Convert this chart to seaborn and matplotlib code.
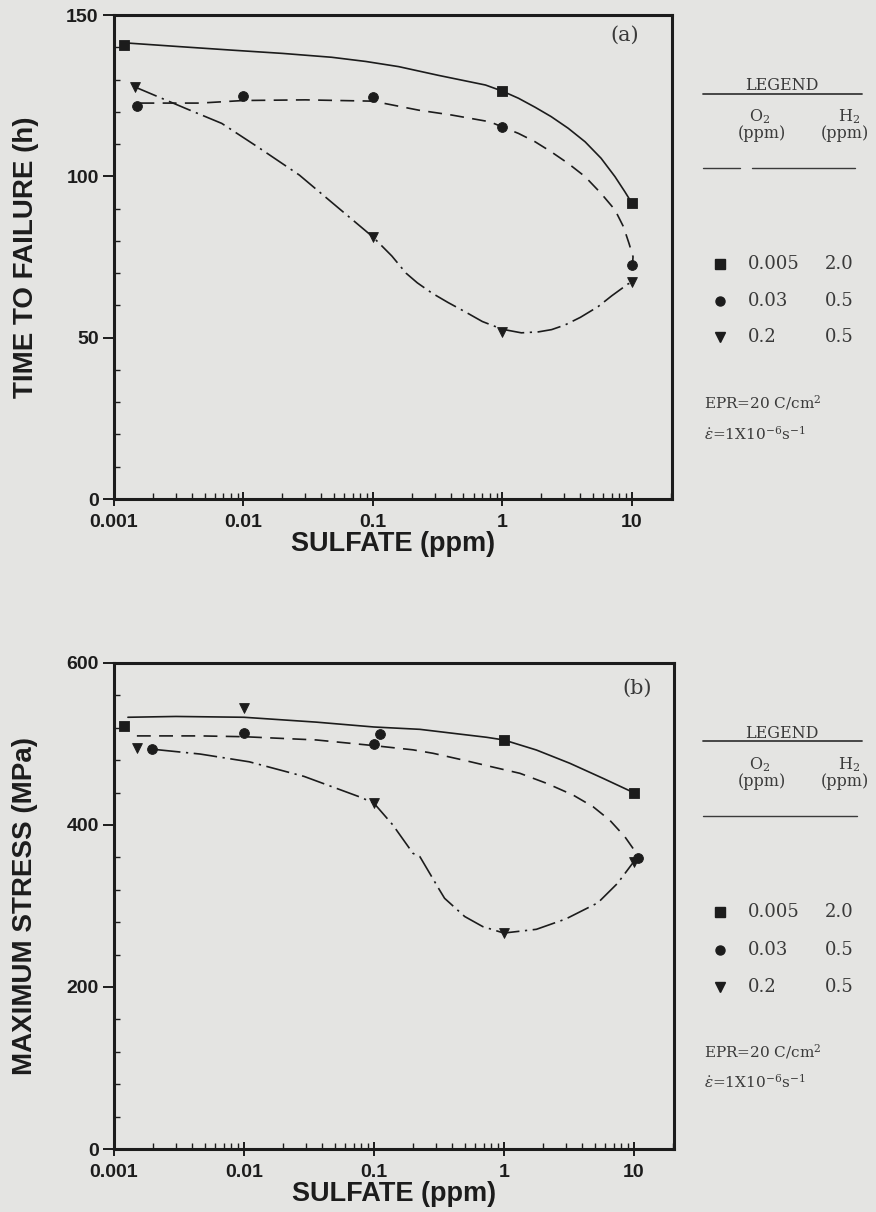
import numpy as np
import pandas as pd
import matplotlib
matplotlib.use("Agg")
import matplotlib.pyplot as plt
import seaborn as sns
from matplotlib.lines import Line2D
from matplotlib.ticker import FixedLocator, FixedFormatter, LogLocator, NullFormatter, MultipleLocator

# ---------------- data ----------------
x_ticks = [0.001, 0.01, 0.1, 1, 10]
x_tick_labels = ["0.001", "0.01", "0.1", "1", "10"]

# panel (a): time to failure (h)
a_sq_x = [0.0012, 1, 10]
a_sq_y = [140.7, 126.4, 91.7]
a_ci_x = [0.0015, 0.01, 0.1, 1, 10]
a_ci_y = [121.8, 124.9, 124.6, 115.3, 72.5]
a_tr_x = [0.00145, 0.1, 1, 10]
a_tr_y = [127.7, 81.2, 51.8, 67.2]

a_solid_x = [0.00128, 0.0032, 0.0082, 0.02, 0.048, 0.088, 0.158, 0.32, 0.74, 1,
             1.33, 1.79, 2.38, 3.22, 4.35, 5.78, 7.4, 8.83, 10]
a_solid_y = [141.3, 140.2, 139.1, 138.1, 136.9, 135.6, 134.0, 131.3, 128.3, 126.4,
             124.2, 121.4, 118.5, 114.9, 110.7, 105.6, 99.9, 95.2, 91.7]
a_dash_x = [0.0016, 0.0046, 0.01, 0.03, 0.1, 0.226, 0.405, 0.8, 1, 1.33, 1.79, 2.38,
            3.22, 4.35, 5.78, 7.4, 8.6, 9.5, 10.2, 10.1]
a_dash_y = [122.7, 122.7, 123.5, 123.7, 123.3, 120.5, 119.0, 116.9, 115.3, 113.3, 110.7, 107.6,
            104.0, 99.9, 94.7, 89.6, 84.4, 79.2, 75.1, 72.5]
a_dd_x = [0.00145, 0.0036, 0.0068, 0.013, 0.027, 0.053, 0.1, 0.14, 0.18, 0.22, 0.286, 0.38,
          0.516, 0.7, 1, 1.4, 1.9, 2.4, 3.03, 4.0, 5.47, 7.0, 9.3, 10]
a_dd_y = [127.7, 121.0, 116.4, 109.0, 100.4, 90.5, 81.2, 75.3, 70.0, 67.0, 63.8, 60.9,
          58.0, 55.0, 52.6, 51.5, 51.8, 52.5, 53.9, 56.3, 59.6, 63.0, 66.6, 67.2]

# panel (b): maximum stress (MPa)
b_sq_x = [0.0012, 1, 10]
b_sq_y = [522, 505, 439]
b_ci_x = [0.00196, 0.01, 0.1, 0.111, 10.8]
b_ci_y = [494, 513.6, 500, 512, 359]
b_tr_x = [0.0015, 0.01, 0.1, 1, 10]
b_tr_y = [495, 544, 427, 266.6, 354]

b_solid_x = [0.00128, 0.003, 0.01, 0.036, 0.1, 0.226, 0.407, 0.736, 1, 1.78, 3.22, 5.8, 10]
b_solid_y = [533, 534, 533, 527, 521, 518.1, 513.2, 508.3, 505, 492.6, 476.2, 457.6, 439.9]
b_dash_x = [0.0015, 0.0046, 0.01, 0.036, 0.1, 0.2, 0.286, 0.486, 0.8, 1.33, 2.13, 3.41,
            4.86, 6.53, 8.53, 10.5, 10.8]
b_dash_y = [510, 510, 509, 505, 498, 492.8, 488.5, 480.2, 472, 463.8, 451.5, 437,
            422.6, 406, 385.6, 365, 359]
b_dd_x = [0.00214, 0.0046, 0.011, 0.029, 0.078, 0.1, 0.14, 0.2, 0.226, 0.32, 0.35, 0.5,
          0.69, 1, 1.78, 3.0, 5.3, 7.5, 10]
b_dd_y = [493, 487.6, 478, 460, 434.6, 427, 400, 365, 360.9, 319.8, 309.5, 287,
          274.5, 266.6, 271.2, 284, 304, 328, 354.7]

legend_o2 = ["0.005", "0.03", "0.2"]
legend_h2 = ["2.0", "0.5", "0.5"]
legend_markers = ["s", "o", "v"]

# ---------------- style ----------------
sns.set_theme(style="ticks")
plt.rcParams["font.family"] = ["Liberation Sans", "DejaVu Sans"]
plt.rcParams["mathtext.fontset"] = "dejavuserif"
plt.rcParams["lines.scale_dashes"] = False

BG = "#e4e4e2"
INK = "#1c1c1c"
SOFT = "#3a3a3a"
SERIF = ["DejaVu Serif"]

W, H = 876, 1212
fig = plt.figure(figsize=(W / 100, H / 100), dpi=100, facecolor=BG)


def rect(l, t, r, b):
    return [l / W, 1 - b / H, (r - l) / W, (b - t) / H]


def P(x, y):
    return x / W, 1 - y / H


SOLID = "-"
DASH = (0, (10, 6))
DASHDOT = (0, (17, 4, 1.6, 4))


def panel(ax, curves, markers, ylim, ymaj, ymin, ylabel, tag, tagxy):
    ax.set_facecolor(BG)
    ax.set_xscale("log")
    for x, y, ls in curves:
        df = pd.DataFrame({"x": x, "y": y})
        sns.lineplot(data=df, x="x", y="y", sort=False, estimator=None, ax=ax,
                     color=INK, linewidth=1.2, linestyle=ls)
    for x, y, m, s in markers:
        sns.scatterplot(x=x, y=y, marker=m, s=s, color=INK, edgecolor=INK,
                        linewidth=0.6, ax=ax, zorder=5)
    ax.set_xlim(0.001, 20.4)
    ax.set_ylim(*ylim)
    ax.xaxis.set_major_locator(FixedLocator(x_ticks))
    ax.xaxis.set_major_formatter(FixedFormatter(x_tick_labels))
    ax.xaxis.set_minor_locator(LogLocator(base=10, subs=np.arange(2, 10)))
    ax.xaxis.set_minor_formatter(NullFormatter())
    ax.yaxis.set_major_locator(MultipleLocator(ymaj))
    ax.yaxis.set_minor_locator(MultipleLocator(ymin))
    ax.tick_params(axis="x", which="major", direction="inout", length=10, width=1.4,
                   pad=6, labelsize=14, colors=INK)
    ax.tick_params(axis="x", which="minor", direction="in", length=4, width=1.0, colors=INK)
    ax.tick_params(axis="y", which="major", direction="out", length=8, width=1.4,
                   pad=3, labelsize=14, colors=INK)
    ax.tick_params(axis="y", which="minor", direction="in", length=4, width=1.0, colors=INK)
    for lab in ax.get_xticklabels() + ax.get_yticklabels():
        lab.set_fontweight("bold")
    for s in ax.spines.values():
        s.set_visible(True)
        s.set_linewidth(2.2)
        s.set_color(INK)
    ax.set_xlabel("SULFATE (ppm)", fontsize=19.5, fontweight="bold", color=INK, labelpad=0)
    ax.set_ylabel(ylabel, fontsize=20, fontweight="bold", color=INK)
    ax.yaxis.set_label_coords(-0.135, 0.5)
    ax.text(tagxy[0], tagxy[1], tag, transform=ax.transAxes, family=SERIF,
            fontsize=15, color=SOFT, ha="center", va="center")


def legend_block(y_legend, y_under, y_o2, y_ppm, y_rule, rule_segments, rows_y, y_epr, y_eps):
    fig.text(*P(782, y_legend), "LEGEND", family=SERIF, fontsize=11.5, color=SOFT,
             ha="center", va="center")
    fig.add_artist(Line2D([703 / W, 862 / W], [1 - y_under / H] * 2, color=SOFT, lw=1.3))
    fig.text(*P(760, y_o2), "O$_2$", family=SERIF, fontsize=11.5, color=SOFT, ha="center", va="center")
    fig.text(*P(762, y_ppm), "(ppm)", family=SERIF, fontsize=11.5, color=SOFT, ha="center", va="center")
    fig.text(*P(849, y_o2), "H$_2$", family=SERIF, fontsize=11.5, color=SOFT, ha="center", va="center")
    fig.text(*P(845, y_ppm), "(ppm)", family=SERIF, fontsize=11.5, color=SOFT, ha="center", va="center")
    for x0, x1 in rule_segments:
        fig.add_artist(Line2D([x0 / W, x1 / W], [1 - y_rule / H] * 2, color=SOFT, lw=1.0))
    for yy, m, o2, h2 in zip(rows_y, legend_markers, legend_o2, legend_h2):
        fig.add_artist(Line2D([720 / W], [1 - yy / H], marker=m, ms=6.5, color=INK, lw=0))
        fig.text(*P(748, yy), o2, family=SERIF, fontsize=13, color=SOFT, ha="left", va="center")
        fig.text(*P(825, yy), h2, family=SERIF, fontsize=13, color=SOFT, ha="left", va="center")
    fig.text(*P(704, y_epr), "EPR=20 C/cm$^2$", family=SERIF, fontsize=11, color=SOFT,
             ha="left", va="center")
    fig.text(*P(704, y_eps), r"$\dot{\varepsilon}$=1X10$^{-6}$s$^{-1}$", family=SERIF,
             fontsize=11, color=SOFT, ha="left", va="center")


axA = fig.add_axes(rect(114, 15, 672, 499))
panel(axA,
      [(a_solid_x, a_solid_y, SOLID), (a_dash_x, a_dash_y, DASH), (a_dd_x, a_dd_y, DASHDOT)],
      [(a_sq_x, a_sq_y, "s", 55), (a_ci_x, a_ci_y, "o", 50), (a_tr_x, a_tr_y, "v", 50)],
      (0, 150), 50, 10, "TIME TO FAILURE (h)", "(a)", (0.915, 0.958))

axB = fig.add_axes(rect(114, 663, 674, 1149))
panel(axB,
      [(b_solid_x, b_solid_y, SOLID), (b_dash_x, b_dash_y, DASH), (b_dd_x, b_dd_y, DASHDOT)],
      [(b_sq_x, b_sq_y, "s", 55), (b_ci_x, b_ci_y, "o", 50), (b_tr_x, b_tr_y, "v", 50)],
      (0, 600), 200, 40, "MAXIMUM STRESS (MPa)", "(b)", (0.935, 0.948))

legend_block(86, 94, 117, 134, 168, [(703, 740), (752, 855)], [264, 301, 337], 403, 434)
legend_block(733, 741, 765, 782, 816, [(703, 857)], [912, 950, 987], 1052, 1082)

fig.savefig("out.png", dpi=100, facecolor=BG)
